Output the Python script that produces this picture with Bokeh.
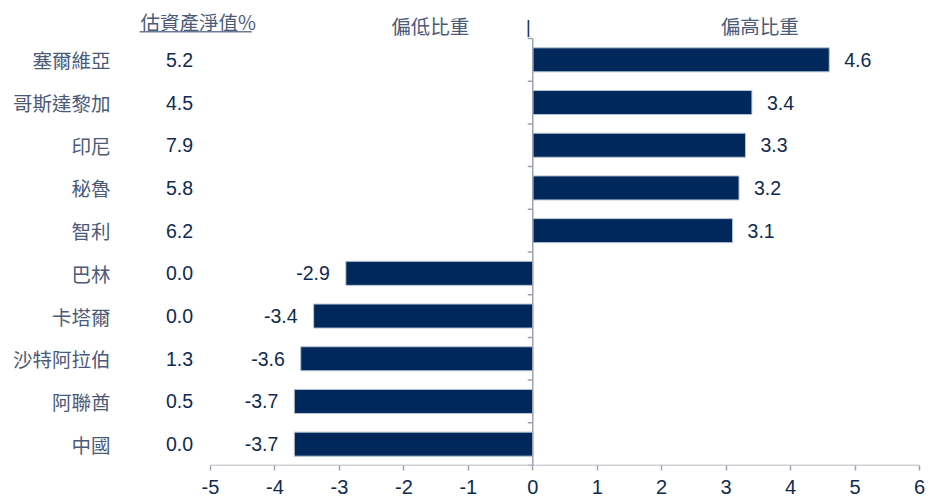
import math
from bokeh.plotting import figure
from bokeh.models import Range1d, FixedTicker, ColumnDataSource
from bokeh.core.properties import value
from bokeh.embed import file_html
from bokeh.resources import INLINE

# ---- data ----
categories = ["塞爾維亞", "哥斯達黎加", "印尼", "秘魯", "智利",
              "巴林", "卡塔爾", "沙特阿拉伯", "阿聯酋", "中國"]
nav_pct = [5.2, 4.5, 7.9, 5.8, 6.2, 0.0, 0.0, 1.3, 0.5, 0.0]
active_weight = [4.6, 3.4, 3.3, 3.2, 3.1, -2.9, -3.4, -3.6, -3.7, -3.7]
x_ticks = [-5, -4, -3, -2, -1, 0, 1, 2, 3, 4, 5, 6]
nav_header = "估資產淨值%"
under_header = "偏低比重"
over_header = "偏高比重"

CJK = value("Noto Sans CJK TC")
NUM = value("Liberation Sans")
NAVY = "#0e2a52"
SLATE = "#4b5a78"
GREY = "#9ea4ae"
BAR = "#00285a"

px_per_unit = (919 - 210) / (x_ticks[-1] - x_ticks[0])
x_left = x_ticks[0] - (210 - 8) / px_per_unit
x_right = x_ticks[-1] + (932 - 919) / px_per_unit

rows = list(range(len(categories)))
row_px = 42.73
y_top = -0.5 - (38 - 8) / row_px
y_bottom = len(categories) - 0.5

p = figure(frame_width=924, frame_height=457,
           x_range=Range1d(x_left, x_right),
           y_range=Range1d(y_bottom, y_top),
           output_backend="svg", toolbar_location=None,
           min_border_left=8, min_border_right=0, min_border_top=8,
           min_border_bottom=0)
p.outline_line_color = None
p.grid.visible = False
p.yaxis.visible = False
p.background_fill_color = "white"
p.border_fill_color = "white"

xa = p.xaxis[0]
xa.ticker = FixedTicker(ticks=x_ticks)
xa.major_label_overrides = {t: str(t) for t in x_ticks}
xa.axis_line_color = None
xa.major_tick_line_color = GREY
xa.major_tick_line_width = 1.5
xa.major_tick_out = 5
xa.major_tick_in = 0
xa.minor_tick_line_color = None
xa.major_label_text_font = "Liberation Sans"
xa.major_label_text_font_size = "20px"
xa.major_label_text_color = NAVY
xa.major_label_standoff = 9

# x axis baseline across the tick span
p.segment(x0=[x_ticks[0]], x1=[x_ticks[-1]], y0=[y_bottom], y1=[y_bottom],
          line_color=GREY, line_width=1.5)

# bars
src = ColumnDataSource(dict(
    y=rows, v=active_weight, cat=categories,
    nav=[f"{n:.1f}" for n in nav_pct],
    lab=[f"{v:.1f}" for v in active_weight],
    align=["left" if v >= 0 else "right" for v in active_weight],
    off=[15 if v >= 0 else -16 for v in active_weight],
))
p.hbar(y="y", left=0, right="v", height=0.5625, source=src,
       fill_color=BAR, line_color="#b8c3d4", line_width=1)

# vertical zero axis with category-boundary ticks
bounds = [r - 0.5 for r in rows] + [len(rows) - 0.5]
p.segment(x0=[0], x1=[0], y0=[bounds[0]], y1=[bounds[-1]],
          line_color=GREY, line_width=1.5)
p.ray(x=[0] * len(bounds), y=bounds, length=5, angle=math.pi,
      length_units="screen", line_color=GREY, line_width=1.5)

# bar value labels
p.text(x="v", y="y", text="lab", source=src, text_align="align",
       x_offset="off", text_baseline="middle", text_font=NUM,
       text_font_size="19.5px", text_color=NAVY)

# category names & NAV column
p.text(x=-6.553, y="y", text="cat", source=src, text_align="right",
       text_baseline="middle", text_font=CJK, text_font_size="19.5px",
       text_color=SLATE)
p.text(x=-5.48, y="y", text="nav", source=src, text_align="center",
       text_baseline="middle", text_font=NUM, text_font_size="19.5px",
       text_color=NAVY)

# headers
p.text(x=[-5.19], y=[-0.89], text=[nav_header], text_align="center",
       text_baseline="middle", text_font=CJK, text_font_size="19.5px",
       text_color=SLATE)
p.segment(x0=[-6.1], x1=[-4.36], y0=[-0.657], y1=[-0.657],
          line_color="#6b7a96", line_width=1.5)
p.text(x=[-1.59, 3.52], y=[-0.80, -0.80], text=[under_header, over_header],
       text_align="center", text_baseline="middle", text_font=CJK,
       text_font_size="19.5px", text_color=SLATE)
p.text(x=[-0.07], y=[-0.78], text=["|"], text_align="center",
       text_baseline="middle", text_font=NUM, text_font_size="18px",
       text_color=NAVY)

open("out.html", "w").write(file_html(p, INLINE))
